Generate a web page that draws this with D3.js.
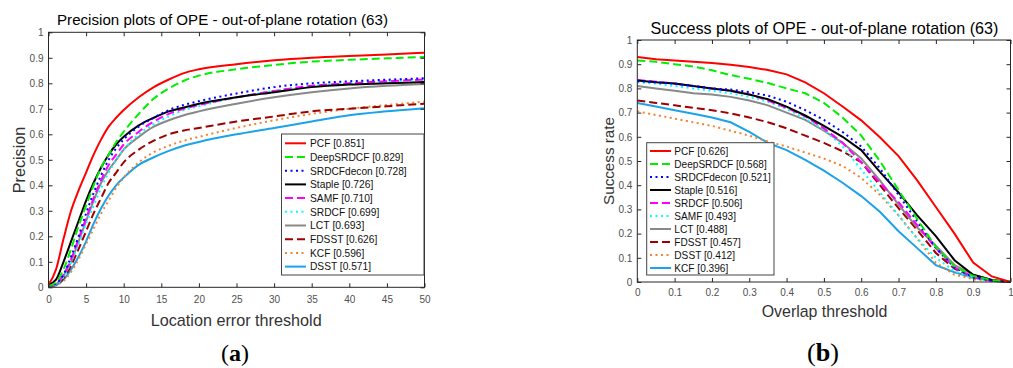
<!DOCTYPE html>
<html><head><meta charset="utf-8">
<script src="https://cdn.jsdelivr.net/npm/d3@7"></script>
<style>
body{margin:0;background:#fff}
svg{display:block}
text{font-family:"Liberation Sans",Arial,Helvetica,sans-serif}
</style>
</head><body>
<svg id="c" width="1013" height="368"></svg>
<script>
// ---------- Precision plot data ----------
const precThresholds = [0,1,2,3,4,5,6,7,8,9,10,12,14,16,18,20,25,30,35,40,45,50];
const precNames  = ["PCF","DeepSRDCF","SRDCFdecon","Staple","SAMF","SRDCF","LCT","FDSST","KCF","DSST"];
const precScores = ["0.851","0.829","0.728","0.726","0.710","0.699","0.693","0.626","0.596","0.571"];
const precPCF        = [0.01,0.07,0.19,0.30,0.38,0.45,0.52,0.58,0.63,0.665,0.695,0.745,0.785,0.815,0.84,0.855,0.875,0.89,0.90,0.907,0.913,0.92];
const precDeepSRDCF  = [0.005,0.02,0.07,0.15,0.24,0.32,0.40,0.47,0.52,0.57,0.61,0.68,0.74,0.78,0.81,0.83,0.855,0.872,0.885,0.892,0.898,0.903];
const precSRDCFdecon = [0.005,0.015,0.05,0.12,0.20,0.29,0.37,0.44,0.50,0.545,0.58,0.63,0.665,0.695,0.715,0.73,0.76,0.785,0.80,0.808,0.814,0.82];
const precStaple     = [0.01,0.03,0.10,0.18,0.26,0.34,0.41,0.47,0.52,0.56,0.59,0.635,0.665,0.69,0.705,0.72,0.745,0.765,0.785,0.795,0.80,0.805];
const precSAMF       = [0.005,0.015,0.05,0.11,0.19,0.27,0.35,0.42,0.48,0.52,0.56,0.61,0.65,0.68,0.70,0.715,0.745,0.77,0.79,0.80,0.808,0.815];
const precSRDCF      = [0.005,0.012,0.04,0.10,0.17,0.25,0.32,0.39,0.45,0.50,0.54,0.60,0.64,0.67,0.695,0.71,0.745,0.77,0.79,0.80,0.808,0.815];
const precLCT        = [0.005,0.012,0.045,0.10,0.18,0.26,0.34,0.41,0.46,0.50,0.54,0.59,0.63,0.655,0.675,0.69,0.72,0.745,0.765,0.78,0.79,0.797];
const precFDSST      = [0.005,0.01,0.035,0.085,0.15,0.22,0.29,0.35,0.41,0.45,0.49,0.54,0.575,0.60,0.615,0.625,0.65,0.67,0.69,0.70,0.71,0.72];
const precKCF        = [0.003,0.008,0.025,0.06,0.11,0.17,0.23,0.29,0.34,0.39,0.43,0.49,0.53,0.555,0.575,0.59,0.625,0.655,0.68,0.70,0.715,0.728];
const precDSST       = [0.003,0.008,0.03,0.07,0.12,0.18,0.25,0.31,0.36,0.40,0.43,0.48,0.51,0.535,0.555,0.57,0.60,0.625,0.65,0.675,0.69,0.702];
const precXTicks = [0,5,10,15,20,25,30,35,40,45,50];
const precYTicks = [0,0.1,0.2,0.3,0.4,0.5,0.6,0.7,0.8,0.9,1];

// ---------- Success plot data ----------
const succThresholds = [0,0.05,0.1,0.15,0.2,0.25,0.3,0.35,0.4,0.45,0.5,0.55,0.6,0.65,0.7,0.75,0.8,0.85,0.9,0.95,1];
const succNames  = ["PCF","DeepSRDCF","SRDCFdecon","Staple","SRDCF","SAMF","LCT","FDSST","DSST","KCF"];
const succScores = ["0.626","0.568","0.521","0.516","0.506","0.493","0.488","0.457","0.412","0.396"];
const succPCF        = [0.93,0.92,0.915,0.91,0.905,0.898,0.888,0.876,0.858,0.825,0.78,0.725,0.668,0.598,0.52,0.42,0.31,0.2,0.08,0.023,0];
const succDeepSRDCF  = [0.915,0.91,0.90,0.89,0.875,0.855,0.84,0.822,0.80,0.78,0.74,0.68,0.605,0.50,0.38,0.26,0.145,0.065,0.025,0.008,0];
const succSRDCFdecon = [0.83,0.825,0.82,0.81,0.80,0.795,0.785,0.77,0.745,0.71,0.67,0.62,0.56,0.47,0.36,0.25,0.14,0.06,0.02,0.006,0];
const succStaple     = [0.833,0.825,0.82,0.81,0.80,0.79,0.775,0.755,0.725,0.688,0.645,0.60,0.545,0.455,0.37,0.275,0.19,0.09,0.03,0.008,0];
const succSRDCF      = [0.835,0.828,0.82,0.81,0.80,0.79,0.775,0.75,0.72,0.685,0.635,0.575,0.495,0.41,0.33,0.235,0.14,0.06,0.02,0.005,0];
const succSAMF       = [0.825,0.82,0.81,0.80,0.79,0.78,0.765,0.745,0.715,0.675,0.63,0.56,0.465,0.37,0.275,0.18,0.10,0.045,0.015,0.004,0];
const succLCT        = [0.81,0.80,0.79,0.78,0.775,0.765,0.75,0.73,0.70,0.67,0.625,0.575,0.51,0.42,0.32,0.225,0.15,0.07,0.03,0.008,0];
const succFDSST      = [0.75,0.74,0.73,0.72,0.71,0.697,0.68,0.66,0.635,0.605,0.575,0.54,0.495,0.40,0.305,0.215,0.12,0.055,0.02,0.005,0];
const succDSST       = [0.705,0.69,0.675,0.66,0.645,0.625,0.605,0.58,0.56,0.535,0.51,0.48,0.43,0.36,0.275,0.18,0.08,0.03,0.012,0.003,0];
const succKCF        = [0.74,0.725,0.71,0.695,0.68,0.66,0.62,0.575,0.545,0.505,0.46,0.41,0.355,0.29,0.21,0.14,0.07,0.04,0.017,0.006,0];
const succXTicks = [0,0.1,0.2,0.3,0.4,0.5,0.6,0.7,0.8,0.9,1];
const succYTicks = [0,0.1,0.2,0.3,0.4,0.5,0.6,0.7,0.8,0.9,1];

// ---------- styles by rank ----------
const styles = [
  {c:"#ff0000", d:null},
  {c:"#00ee00", d:"8,4"},
  {c:"#0000ff", d:"2,3.5"},
  {c:"#000000", d:null},
  {c:"#ff00ff", d:"8,4"},
  {c:"#00ffff", d:"2,3.5"},
  {c:"#888888", d:null},
  {c:"#a00000", d:"8,4"},
  {c:"#f5822d", d:"2,3.5"},
  {c:"#1aa3e8", d:null}
];

const svg = d3.select("#c");
const axisCol = "#262626";
const tickCol = "#505050";

function fitFont(sel, w){
  const n = sel.node();
  const fs = parseFloat(n.style.fontSize);
  const l = n.getComputedTextLength();
  if (l > 0) sel.style("font-size", (fs * w / l) + "px");
}

function panel(o){
  const x = d3.scaleLinear().domain([o.xTicks[0], o.xTicks[o.xTicks.length-1]]).range([o.left,o.right]);
  const y = d3.scaleLinear().domain([0,1]).range([o.bottom,o.top]);
  const g = svg.append("g");
  const line = d3.line().x((d,i)=>x(o.xs[i])).y(d=>y(d)).curve(o.curve);
  for(let k=o.series.length-1;k>=0;k--){
    const st = styles[k];
    g.append("path").attr("d", line(o.series[k]))
      .attr("fill","none").attr("stroke",st.c).attr("stroke-width",2)
      .attr("stroke-dasharray", st.d);
  }
  // axes
  const ax = [
    d3.axisBottom(x).tickValues(o.xTicks).tickFormat(d3.format("")).tickSizeInner(-4).tickSizeOuter(0).tickPadding(o.xPad),
    d3.axisTop(x).tickValues(o.xTicks).tickFormat("").tickSizeInner(-4).tickSizeOuter(0),
    d3.axisLeft(y).tickValues(o.yTicks).tickFormat(d3.format("")).tickSizeInner(-4).tickSizeOuter(0).tickPadding(o.yPad),
    d3.axisRight(y).tickValues(o.yTicks).tickFormat("").tickSizeInner(-4).tickSizeOuter(0)
  ];
  const pos = [`translate(0,${o.bottom})`,`translate(0,${o.top})`,`translate(${o.left},0)`,`translate(${o.right},0)`];
  ax.forEach((a,i)=>{
    const ag = g.append("g").attr("transform",pos[i]).call(a);
    ag.select(".domain").remove();
    ag.selectAll("line").attr("stroke",axisCol);
    ag.selectAll("text").attr("fill",tickCol).style("font-size",o.tickFont+"px").style("font-family",'"Liberation Sans",Arial,sans-serif');
  });
  g.append("rect").attr("x",o.left).attr("y",o.top).attr("width",o.right-o.left).attr("height",o.bottom-o.top)
    .attr("fill","none").attr("stroke",axisCol).attr("stroke-width",1);
  // title
  const t = g.append("text").attr("x",o.titleX).attr("y",o.titleY).attr("text-anchor","middle")
    .style("font-size","15px").attr("fill","#000").text(o.title);
  fitFont(t, o.titleW);
  const xl = g.append("text").attr("x",o.xLabX).attr("y",o.xLabY).attr("text-anchor","middle")
    .style("font-size","16px").attr("fill","#333").text(o.xLabel);
  fitFont(xl, o.xLabW);
  const yl = g.append("text").attr("transform",`translate(${o.yLabX},${o.yLabY}) rotate(-90)`).attr("text-anchor","middle")
    .style("font-size","16px").attr("fill","#333").text(o.yLabel);
  fitFont(yl, o.yLabW);
  // legend
  const L = o.legend;
  g.append("rect").attr("x",L.x).attr("y",L.y).attr("width",L.w).attr("height",L.h)
    .attr("fill","#fff").attr("stroke","#444").attr("stroke-width",1);
  o.names.forEach((n,i)=>{
    const yy = L.row0 + i*L.dy;
    const st = styles[i];
    g.append("line").attr("x1",L.lx1).attr("x2",L.lx2).attr("y1",yy).attr("y2",yy)
      .attr("stroke",st.c).attr("stroke-width",2).attr("stroke-dasharray",st.d);
    g.append("text").attr("x",L.tx).attr("y",yy+3.8).style("font-size","10.4px").attr("fill","#111")
      .attr("textLength", L.widths[i]).attr("lengthAdjust","spacingAndGlyphs")
      .text(`${n} [${o.scores[i]}]`);
  });
  const cap = g.append("text").attr("x",o.capX).attr("y",361).attr("text-anchor","middle")
    .style("font-family",'"Liberation Serif","DejaVu Serif",serif').style("font-size","21px")
    .attr("fill","#000");
  cap.append("tspan").text("(");
  cap.append("tspan").attr("font-weight","bold").text(o.cap);
  cap.append("tspan").text(")");
  fitFont(cap, o.capW);
}

panel({
  xs: precThresholds, xTicks: precXTicks, yTicks: precYTicks,
  series: [precPCF,precDeepSRDCF,precSRDCFdecon,precStaple,precSAMF,precSRDCF,precLCT,precFDSST,precKCF,precDSST],
  names: precNames, scores: precScores, curve: d3.curveMonotoneX,
  left:48.5, right:424.5, top:32.3, bottom:287.3,
  xPad:9, yPad:5, tickFont:10,
  title:"Precision plots of OPE - out-of-plane rotation (63)", titleX:222.5, titleY:24.5, titleW:331,
  xLabel:"Location error threshold", xLabX:236.2, xLabY:326, xLabW:171,
  yLabel:"Precision", yLabX:25, yLabY:160, yLabW:66.7,
  legend:{x:281.5,y:134,w:142.5,h:141, row0:143.3, dy:13.7, lx1:285, lx2:306, tx:310,
          widths:[54.3,93.3,96.7,63.3,62.7,69.3,54.3,67.3,54.3,61]},
  cap:"a", capX:235, capW:28
});
panel({
  xs: succThresholds, xTicks: succXTicks, yTicks: succYTicks,
  series: [succPCF,succDeepSRDCF,succSRDCFdecon,succStaple,succSRDCF,succSAMF,succLCT,succFDSST,succDSST,succKCF],
  names: succNames, scores: succScores, curve: d3.curveLinear,
  left:637.3, right:1010.5, top:40, bottom:282,
  xPad:7, yPad:5, tickFont:10,
  title:"Success plots of OPE - out-of-plane rotation (63)", titleX:824.5, titleY:34, titleW:348,
  xLabel:"Overlap threshold", xLabX:824.5, xLabY:317, xLabW:125.6,
  yLabel:"Success rate", yLabX:614, yLabY:161, yLabW:88,
  legend:{x:646.7,y:142.7,w:127.3,h:132.3, row0:151, dy:13, lx1:650, lx2:671, tx:674.3,
          widths:[54,92.4,96.4,63,68,61.7,53,66.4,60.7,54]},
  cap:"b", capX:823, capW:32
});
</script>
</body></html>
